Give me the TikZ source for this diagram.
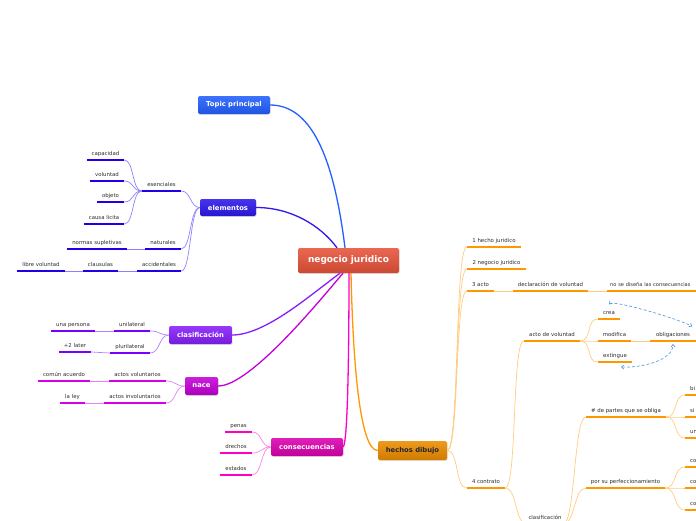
\documentclass[tikz,border=0pt]{standalone}
\usepackage{fontspec}
\setmainfont{DejaVu Sans}
\usetikzlibrary{arrows.meta,shadows}

\definecolor{rootcol}{RGB}{231,83,58}
\definecolor{tpcol}{RGB}{35,95,255}
\definecolor{elecol}{RGB}{45,25,235}
\definecolor{elebar}{RGB}{30,0,235}
\definecolor{eleline}{RGB}{140,130,255}
\definecolor{clacol}{RGB}{135,30,250}
\definecolor{clabar}{RGB}{120,0,255}
\definecolor{claline}{RGB}{180,130,255}
\definecolor{nacecol}{RGB}{195,0,215}
\definecolor{nacebar}{RGB}{210,0,235}
\definecolor{naceline}{RGB}{230,130,245}
\definecolor{conscol}{RGB}{220,0,175}
\definecolor{consbar}{RGB}{255,0,200}
\definecolor{consline}{RGB}{255,130,225}
\definecolor{hechcol}{RGB}{235,140,0}
\definecolor{hechbar}{RGB}{255,152,0}
\definecolor{hechline}{RGB}{255,205,130}
\definecolor{relblue}{RGB}{70,150,230}
\definecolor{leaftext}{RGB}{45,45,45}

\newcommand{\leaffont}{\fontsize{5.4}{6}\selectfont}
\newcommand{\boxfont}{\fontsize{6.8}{8}\selectfont\bfseries}
\newcommand{\rootfont}{\fontsize{9}{10}\selectfont\bfseries}

\tikzset{
  topic/.style={rounded corners=2pt, text=white, font=\boxfont, inner sep=0pt,
    top color=#1!88!white, bottom color=#1!88!black,
    drop shadow={shadow xshift=0.6pt, shadow yshift=-0.9pt, opacity=0.25}},
  leaf/.style={font=\leaffont, text=leaftext, inner xsep=0pt, inner ysep=3pt,
    text height=4pt, text depth=1.2pt, anchor=south,
    append after command={\pgfextra{\draw[line width=2.6pt,#1]
      (\tikzlastnode.south west) -- (\tikzlastnode.south east);}}},
  cut/.style={anchor=south west, text width=30pt, align=left, inner xsep=5pt},
  twig/.style={#1, line width=0.7pt},
  limb/.style={#1, line width=1.3pt},
  lbranch/.style={to path={.. controls +(-10,0) and +(10,0) .. (\tikztotarget)}},
  rbranch/.style={to path={.. controls +(12,0) and +(-12,0) .. (\tikztotarget)}},
  rel/.style={relblue, line width=0.6pt, dash pattern=on 3pt off 2pt,
    {Straight Barb[length=2.5pt,width=4pt]}-{Straight Barb[length=2.5pt,width=4pt]}},
}

\begin{document}
\begin{tikzpicture}[x=1pt, y=-1pt]
  \useasboundingbox (0,0) rectangle (696,520);
  \clip (0,0) rectangle (696,520);

  \node[topic=rootcol, font=\rootfont, minimum width=101pt, minimum height=25pt] (cen) at (348.5,260.5) {negocio juridico};
  \node[topic=tpcol, minimum width=72pt, minimum height=18pt] (tp) at (234,105) {Topic principal};
  \node[topic=elecol, minimum width=56pt, minimum height=17pt] (elem) at (228,207.5) {elementos};
  \node[topic=clacol, minimum width=63pt, minimum height=18pt] (clas) at (200.5,335) {clasificación};
  \node[topic=nacecol, minimum width=33pt, minimum height=18pt] (nace) at (201.5,386) {nace};
  \node[topic=conscol, minimum width=72pt, minimum height=18pt] (cons) at (307,447) {consecuencias};
  \node[topic=hechcol, text=black!85, minimum width=69pt, minimum height=19pt] (hech) at (412.5,450.5) {hechos dibujo};

  \node[leaf=elebar, minimum width=39pt] (ess) at (161.5,191) {esenciales};
  \node[leaf=elebar, minimum width=37pt] (cap) at (105.5,160) {capacidad};
  \node[leaf=elebar, minimum width=34pt] (vol) at (107,181) {voluntad};
  \node[leaf=elebar, minimum width=27pt] (obj) at (110.5,202) {objeto};
  \node[leaf=elebar, minimum width=40pt] (cau) at (104,224) {causa licita};
  \node[leaf=elebar, minimum width=36pt] (nat) at (163,249) {naturales};
  \node[leaf=elebar, minimum width=60pt] (nor) at (97,249) {normas supletivas};
  \node[leaf=elebar, minimum width=44pt] (acc) at (159,271) {accidentales};
  \node[leaf=elebar, minimum width=35pt] (cla) at (100.5,271) {clausulas};
  \node[leaf=elebar, minimum width=48pt] (lib) at (41,271) {libre voluntad};

  \node[leaf=clabar, minimum width=36pt] (uni) at (132,331) {unilateral};
  \node[leaf=clabar, minimum width=44pt] (una) at (73,331) {una persona};
  \node[leaf=clabar, minimum width=40pt] (plu) at (130,353) {plurilateral};
  \node[leaf=clabar, minimum width=32pt] (mas) at (75,352) {+2 later};

  \node[leaf=nacebar, minimum width=57pt] (avo) at (137.5,381) {actos voluntarios};
  \node[leaf=nacebar, minimum width=52pt] (com) at (64,381) {común acuerdo};
  \node[leaf=nacebar, minimum width=62pt] (ain) at (135,403) {actos involuntarios};
  \node[leaf=nacebar, minimum width=25pt] (ley) at (72.5,403) {la ley};

  \node[leaf=consbar, minimum width=27pt] (pen) at (238.5,432) {penas};
  \node[leaf=consbar, minimum width=32pt] (der) at (236,453) {drechos};
  \node[leaf=consbar, minimum width=32pt] (est) at (236,475) {estados};

  \node[leaf=hechbar, minimum width=54pt] (h1) at (494,247) {1 hecho juridico};
  \node[leaf=hechbar, minimum width=59pt] (h2) at (496.5,269) {2 negocio juridico};
  \node[leaf=hechbar, minimum width=27pt] (h3) at (480.5,291) {3 acto};
  \node[leaf=hechbar, minimum width=75pt] (dec) at (550.5,291) {declaración de voluntad};
  \node[leaf=hechbar, anchor=south west, text width=96pt, align=left, inner xsep=3pt,
    font=\fontsize{5.1}{6}\selectfont] (nos) at (607,291) {no se diseña las consecuencias};
  \node[leaf=hechbar, minimum width=38pt] (h4) at (486,488) {4 contrato};
  \node[leaf=hechbar, minimum width=56pt] (avol) at (552,341) {acto de voluntad};
  \node[leaf=hechbar, minimum width=22pt] (crea) at (609,319) {crea};
  \node[leaf=hechbar, minimum width=33pt] (mod) at (614.5,341) {modifica};
  \node[leaf=hechbar, minimum width=34pt] (ext) at (615,362) {extingue};
  \node[leaf=hechbar, minimum width=46pt] (obl) at (673,341) {obligaciones};
  \node[leaf=hechbar, minimum width=36pt] (clf) at (545,524) {clasificación};
  \node[leaf=hechbar, minimum width=80pt] (par) at (626,417) {\# de partes que se obliga};
  \node[leaf=hechbar, minimum width=79pt] (por) at (625.5,488) {por su perfeccionamiento};
  \node[leaf=hechbar, cut] (bi) at (685,395) {bi};
  \node[leaf=hechbar, cut] (si) at (685,417) {si};
  \node[leaf=hechbar, cut] (un) at (685,438) {un};
  \node[leaf=hechbar, cut] (coa) at (685,467) {co};
  \node[leaf=hechbar, cut] (cob) at (685,488) {co};
  \node[leaf=hechbar, cut] (coc) at (685,510) {co};

  \draw[limb=tpcol] (tp.east) .. controls +(45,0) and +(-10,-80) .. ([xshift=-3.5pt]cen.north);
  \draw[limb=elecol] (elem.east) .. controls +(34,0) and +(-17,-23) .. ([xshift=-11.5pt]cen.north);
  \draw[limb=clacol] (clas.east) .. controls +(33,0) and +(-30,22) .. ([xshift=-8.5pt]cen.south);
  \draw[limb=nacecol] (nace.east) .. controls +(32,0) and +(-23,27) .. ([xshift=-5.5pt]cen.south);
  \draw[limb=consbar] (cons.east) .. controls +(5,-5) and +(0,60) .. ([xshift=0.5pt]cen.south);
  \draw[limb=hechbar] ([xshift=2.5pt]cen.south) .. controls +(2,90) and +(-18,0) .. (hech.west);

  \foreach \n in {ess,nat,acc} \draw[twig=eleline, lbranch] (elem.west) to (\n.south east);
  \foreach \n in {cap,vol,obj,cau} \draw[twig=eleline, lbranch] (ess.south west) to (\n.south east);
  \draw[twig=eleline] (nat.south west) -- (nor.south east);
  \draw[twig=eleline] (acc.south west) -- (cla.south east);
  \draw[twig=eleline] (cla.south west) -- (lib.south east);

  \foreach \n in {uni,plu} \draw[twig=claline, lbranch] (clas.west) to (\n.south east);
  \draw[twig=claline] (uni.south west) -- (una.south east);
  \draw[twig=claline] (plu.south west) -- (mas.south east);

  \foreach \n in {avo,ain} \draw[twig=naceline, lbranch] (nace.west) to (\n.south east);
  \draw[twig=naceline] (avo.south west) -- (com.south east);
  \draw[twig=naceline] (ain.south west) -- (ley.south east);

  \foreach \n in {pen,der,est} \draw[twig=consline, lbranch] (cons.west) to (\n.south east);

  \foreach \n in {h1,h2,h3,h4} \draw[twig=hechline, rbranch] (hech.east) to (\n.south west);
  \draw[twig=hechline] (h3.south east) -- (dec.south west);
  \draw[twig=hechline] (dec.south east) -- (nos.south west);
  \foreach \n in {avol,clf} \draw[twig=hechline, rbranch] (h4.south east) to (\n.south west);
  \foreach \n in {crea,mod,ext} \draw[twig=hechline, rbranch] (avol.south east) to (\n.south west);
  \draw[twig=hechline] (mod.south east) -- (obl.south west);
  \foreach \n in {par,por} \draw[twig=hechline, rbranch] (clf.south east) to (\n.south west);
  \foreach \n in {bi,si,un} \draw[twig=hechline, rbranch] (par.south east) to (\n.south west);
  \foreach \n in {coa,cob,coc} \draw[twig=hechline, rbranch] (por.south east) to (\n.south west);

  \draw[rel] ([yshift=3pt]crea.north) .. controls +(4,-5) and +(-12,-7) .. ([xshift=-4pt,yshift=3pt]obl.north east);
  \draw[rel] ([xshift=6pt,yshift=-5pt]ext.south) .. controls +(22,1) and +(0,16) .. ([yshift=-3pt]obl.south);
\end{tikzpicture}
\end{document}
